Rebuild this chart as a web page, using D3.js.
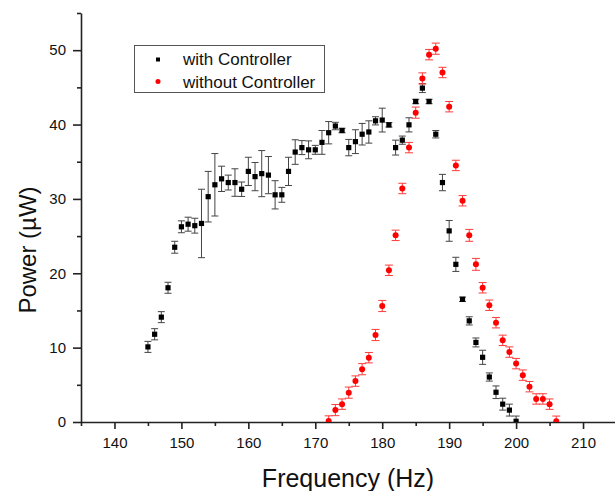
<!DOCTYPE html>
<html>
<head>
<meta charset="utf-8">
<script src="https://cdn.jsdelivr.net/npm/d3@7"></script>
<style>
  body { margin: 0; background: #fff; }
  text { font-family: Arial, "Liberation Sans", sans-serif; }
</style>
</head>
<body>
<div id="wrapper"></div>
<script>
// data
const freqWith = [145, 146, 147, 148, 149, 150, 151, 152, 153, 154, 155, 156, 157, 158, 159, 160,
  161, 162, 163, 164, 165, 166, 167, 168, 169, 170, 171, 172, 173, 174, 175, 176, 177, 178, 179,
  180, 181, 182, 183, 184, 185, 186, 187, 188, 189, 190, 191, 192, 193, 194, 195, 196, 197, 198,
  199, 200]
const powerWith = [10.1, 11.8, 14.1, 18.05, 23.5, 26.25, 26.6, 26.4, 26.7, 30.3, 31.9, 32.7, 32.2,
  32.2, 31.3, 33.7, 33.0, 33.4, 33.2, 30.55, 30.55, 33.7, 36.3, 36.9, 36.6, 36.6, 37.6, 38.9, 39.8,
  39.2, 36.9, 37.7, 38.7, 39.0, 40.5, 40.6, 39.96, 36.9, 37.9, 39.96, 43.1, 44.9, 43.1, 38.7, 32.2,
  25.7, 21.2, 16.5, 13.6, 10.7, 8.7, 6.05, 4.0, 2.4, 1.6, 0.1]
const errWith = [0.74, 0.75, 0.74, 0.74, 0.8, 0.8, 0.94, 1.0, 4.6, 3.4, 4.2, 1.7, 1.0, 1.85, 0.97,
  1.9, 1.9, 3.1, 2.5, 1.9, 1.0, 1.9, 1.65, 0.94, 1.2, 0.6, 1.6, 1.5, 0.5, 0.3, 1.1, 1.6, 1.45, 1.5,
  0.55, 1.6, 0.3, 1.0, 0.55, 0.95, 0.3, 0.6, 0.3, 0.5, 1.1, 1.4, 0.95, 0.3, 0.55, 0.6, 0.95, 0.55,
  0.85, 0.8, 0.8, 0.7]

const freqWithout = [172, 173, 174, 175, 176, 177, 178, 179, 180, 181, 182, 183, 184, 185, 186, 187,
  188, 189, 190, 191, 192, 193, 194, 195, 196, 197, 198, 199, 200, 201, 202, 203, 204, 205, 206]
const powerWithout = [0.13, 1.6, 2.4, 3.95, 5.5, 7.1, 8.65, 11.7, 15.6, 20.4, 25.1, 31.4, 36.9, 41.6,
  46.2, 49.4, 50.2, 47.0, 42.4, 34.5, 29.75, 25.1, 21.2, 18.05, 15.7, 13.35, 10.98, 9.4, 7.85, 6.3,
  4.75, 3.1, 3.1, 2.4, 0.1]
const errWithout = [0.7, 0.75, 0.7, 0.75, 0.7, 0.75, 0.7, 0.75, 0.75, 0.7, 0.7, 0.7, 0.7, 0.75,
  0.75, 0.7, 0.75, 0.7, 0.7, 0.7, 0.7, 0.8, 0.8, 0.7, 0.7, 0.7, 0.7, 0.7, 0.7, 0.7, 0.7, 0.7, 0.7,
  0.7, 0.7]

const xMajorTicks = [140, 150, 160, 170, 180, 190, 200, 210]
const xMinorTicks = [135, 145, 155, 165, 175, 185, 195, 205]
const yMajorTicks = [0, 10, 20, 30, 40, 50]
const yMinorTicks = [5, 15, 25, 35, 45, 55]
const seriesNames = ["with Controller", "without Controller"]

const withCtrl = freqWith.map((f, i) => ({ f, p: powerWith[i], e: errWith[i] }))
const withoutCtrl = freqWithout.map((f, i) => ({ f, p: powerWithout[i], e: errWithout[i] }))

// dimensions
const width = 615
const height = 491
const plot = { left: 81, right: 616.5, top: 13, bottom: 422 }

const svg = d3.select("#wrapper").append("svg")
    .attr("width", width)
    .attr("height", height)

const x = d3.scaleLinear().domain([135, 215]).range([plot.left, plot.right])
const y = d3.scaleLinear().domain([0, 55]).range([plot.bottom, plot.top])

svg.append("defs").append("clipPath").attr("id", "clip")
  .append("rect")
    .attr("x", plot.left).attr("y", plot.top)
    .attr("width", plot.right - plot.left).attr("height", plot.bottom - plot.top)

const axisColor = "#222"

// axes
const xAxis = svg.append("g").attr("transform", `translate(0,${plot.bottom})`)
  .call(d3.axisBottom(x).tickValues(xMajorTicks).tickSize(7).tickPadding(8).tickSizeOuter(0))
svg.append("g").attr("transform", `translate(0,${plot.bottom})`)
  .call(d3.axisBottom(x).tickValues(xMinorTicks).tickSize(4).tickFormat("").tickSizeOuter(0))
  .call(g => g.select(".domain").remove())

const yAxis = svg.append("g").attr("transform", `translate(${plot.left},0)`)
  .call(d3.axisLeft(y).tickValues(yMajorTicks).tickSize(8).tickPadding(7).tickSizeOuter(0))
svg.append("g").attr("transform", `translate(${plot.left},0)`)
  .call(d3.axisLeft(y).tickValues(yMinorTicks).tickSize(4).tickFormat("").tickSizeOuter(0))
  .call(g => g.select(".domain").remove())

svg.selectAll(".domain, .tick line")
    .attr("stroke", axisColor)
    .attr("stroke-width", 1.6)
svg.selectAll(".tick text")
    .attr("fill", "#111")
    .style("font-size", "15px")
    .style("font-family", "Arial, 'Liberation Sans', sans-serif")

// axis titles
svg.append("text")
    .attr("x", 348)
    .attr("y", 487)
    .attr("text-anchor", "middle")
    .style("font-size", "25px")
    .attr("fill", "#111")
    .text("Frequency (Hz)")

svg.append("text")
    .attr("transform", "translate(36,250) rotate(-90)")
    .attr("text-anchor", "middle")
    .style("font-size", "24px")
    .attr("fill", "#111")
    .text("Power (µW)")

// data
const bounds = svg.append("g").attr("clip-path", "url(#clip)")

const drawErrors = (data, color, cap) => {
  const g = bounds.append("g").attr("stroke", color).attr("stroke-width", 1)
  data.forEach(d => {
    const cx = x(d.f)
    const y1 = y(d.p - d.e)
    const y2 = y(d.p + d.e)
    g.append("line").attr("x1", cx).attr("x2", cx).attr("y1", y1).attr("y2", y2)
    g.append("line").attr("x1", cx - cap).attr("x2", cx + cap).attr("y1", y1).attr("y2", y1)
    g.append("line").attr("x1", cx - cap).attr("x2", cx + cap).attr("y1", y2).attr("y2", y2)
  })
}

drawErrors(withCtrl, "#444", 3.5)
bounds.append("g").selectAll("rect")
  .data(withCtrl)
  .join("rect")
    .attr("x", d => x(d.f) - 2.6)
    .attr("y", d => y(d.p) - 2.6)
    .attr("width", 5.2)
    .attr("height", 5.2)
    .attr("fill", "#000")

drawErrors(withoutCtrl, "#ff3b3b", 4)
bounds.append("g").selectAll("circle")
  .data(withoutCtrl)
  .join("circle")
    .attr("cx", d => x(d.f))
    .attr("cy", d => y(d.p))
    .attr("r", 3)
    .attr("fill", "#ff0000")

// legend
const legend = svg.append("g")
legend.append("rect")
    .attr("x", 134.5).attr("y", 45.5)
    .attr("width", 190).attr("height", 47)
    .attr("fill", "#fff")
    .attr("stroke", "#555")
    .attr("stroke-width", 1)
legend.append("rect")
    .attr("x", 156).attr("y", 57.5).attr("width", 4).attr("height", 4)
    .attr("fill", "#000")
legend.append("circle")
    .attr("cx", 158).attr("cy", 81.5).attr("r", 2.5)
    .attr("fill", "#ff0000")
legend.selectAll("text.label")
  .data(seriesNames)
  .join("text")
    .attr("class", "label")
    .attr("x", 183)
    .attr("y", (d, i) => 65 + i * 22.5)
    .style("font-size", "17px")
    .attr("fill", "#111")
    .text(d => d)
</script>
</body>
</html>
